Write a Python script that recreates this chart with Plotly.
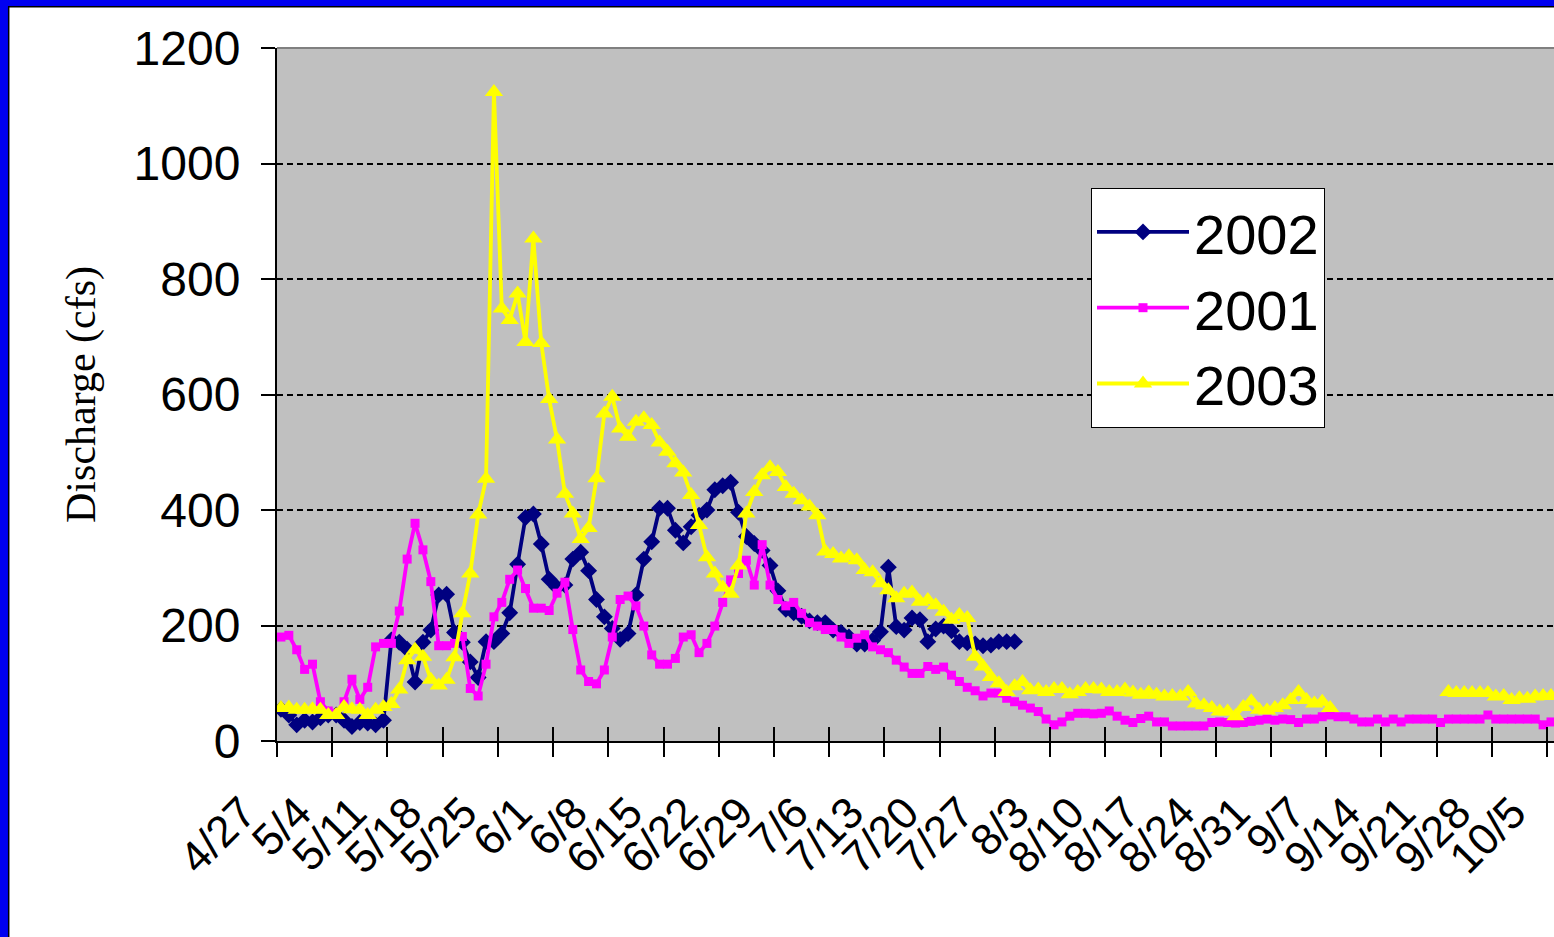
import plotly.graph_objects as go

# ---------------- data ----------------
tick_labels = ["4/27", "5/4", "5/11", "5/18", "5/25", "6/1", "6/8", "6/15", "6/22",
               "6/29", "7/6", "7/13", "7/20", "7/27", "8/3", "8/10", "8/17", "8/24",
               "8/31", "9/7", "9/14", "9/21", "9/28", "10/5"]
y_ticks = [0, 200, 400, 600, 800, 1000, 1200]

# daily discharge (cfs), day 0 = 4/27
y2002 = [55, 45, 28, 36, 33, 40, 45, 45, 36, 25,
         32, 31, 28, 36, 175, 171, 159, 102, 171, 192,
         253, 254, 188, 171, 137, 110, 172, 172, 186, 222,
         306, 387, 393, 341, 280, 266, 270, 315, 327, 295,
         245, 215, 195, 176, 186, 253, 315, 345, 403, 403,
         365, 343, 371, 391, 400, 435, 442, 448, 396, 354,
         342, 330, 304, 260, 228, 222, 216, 208, 205, 205,
         192, 188, 180, 168, 168, 174, 189, 301, 198, 192,
         213, 210, 172, 194, 199, 191, 172, 170, 168, 165,
         166, 172, 172, 172]

y2001 = [180, 183, 158, 124, 133, 68, 52, 48, 68, 107,
         72, 93, 163, 169, 169, 225, 315, 377, 331, 276,
         165, 165, 169, 181, 91, 78, 133, 215, 240, 280,
         296, 264, 230, 230, 226, 256, 275, 193, 123, 103,
         99, 123, 180, 245, 251, 234, 199, 149, 133, 133,
         143, 180, 184, 153, 169, 199, 240, 279, 290, 313,
         270, 340, 270, 245, 234, 240, 221, 205, 199, 193,
         193, 180, 169, 178, 184, 163, 158, 153, 140, 128,
         117, 117, 129, 124, 128, 114, 103, 93, 87, 78,
         83, 83, 74, 68, 62, 57, 51, 38, 28, 33,
         43, 48, 48, 47, 48, 52, 43, 36, 32, 39,
         43, 33, 33, 26, 26, 26, 26, 26, 32, 33,
         32, 31, 32, 34, 36, 38, 36, 38, 37, 32,
         38, 38, 42, 45, 42, 42, 38, 33, 33, 38,
         33, 38, 33, 38, 38, 38, 38, 32, 38, 38,
         38, 38, 38, 45, 38, 38, 38, 38, 38, 38,
         28, 33]

y2003 = [57, 58, 54, 54, 55, 54, 45, 45, 59, 55,
         54, 45, 54, 59, 64, 89, 140, 158, 146, 106,
         96, 106, 145, 221, 290, 392, 454, 1124, 749, 729,
         775, 691, 870, 689, 592, 522, 428, 394, 350, 369,
         455, 567, 596, 541, 527, 553, 559, 547, 517, 501,
         481, 465, 426, 374, 318, 290, 266, 255, 304, 394,
         431, 460, 474, 466, 440, 428, 417, 406, 391, 328,
         324, 316, 320, 313, 296, 292, 273, 261, 247, 255,
         257, 241, 244, 235, 224, 210, 218, 213, 146, 129,
         111, 100, 85, 95, 102, 88, 89, 85, 90, 90,
         81, 85, 90, 90, 89, 85, 85, 89, 84, 80,
         84, 80, 77, 78, 77, 85, 65, 62, 57, 51,
         51, 43, 59, 69, 54, 53, 57, 62, 71, 85,
         71, 65, 68, 57,
         None, None, None, None, None, None, None, None, None, None, None, None, None, None,
         85, 83, 83, 83, 83, 83, 77, 78, 71, 74, 73, 77,
         78, 78]

# ---------------- layout geometry ----------------
W, H = 1554, 937
L, T, B = 277, 48, 196
plot_w = W - L
plot_h = H - T - B
px_per_day = 55.22 / 7
x_max = -0.5 + plot_w / px_per_day
tickvals = [-0.5 + 7 * k for k in range(len(tick_labels))]


def px_x(px):
    return (px - L) / plot_w


def px_y(py):
    return (H - B - py) / plot_h


days2002 = list(range(len(y2002)))
days2001 = list(range(len(y2001)))
days2003 = list(range(len(y2003)))

fig = go.Figure()
fig.add_trace(go.Scatter(
    x=days2002, y=y2002, name="2002", mode="lines+markers",
    line=dict(color="#000080", width=3.8),
    marker=dict(symbol="diamond", size=13, color="#000080")))
fig.add_trace(go.Scatter(
    x=days2001, y=y2001, name="2001", mode="lines+markers",
    line=dict(color="#FF00FF", width=3.8),
    marker=dict(symbol="square", size=9, color="#FF00FF")))
fig.add_trace(go.Scatter(
    x=days2003, y=y2003, name="2003", mode="lines+markers", connectgaps=False,
    line=dict(color="#FFFF00", width=3.8),
    marker=dict(symbol="triangle-up", size=16, color="#FFFF00")))
# helper (empty) traces so the overlay axes are drawn
fig.add_trace(go.Scatter(x=[], y=[], xaxis="x2", yaxis="y", showlegend=False, hoverinfo="skip"))
fig.add_trace(go.Scatter(x=[], y=[], xaxis="x", yaxis="y2", showlegend=False, hoverinfo="skip"))

axis_font = "Arial, Liberation Sans, sans-serif"

fig.update_layout(
    width=W, height=H,
    margin=dict(l=L, r=0, t=T, b=B, pad=0),
    paper_bgcolor="white",
    plot_bgcolor="#C0C0C0",
    showlegend=True,
    xaxis=dict(
        range=[-0.5, x_max], tickmode="array", tickvals=tickvals, ticktext=tick_labels,
        tickangle=-45, ticks="outside", ticklen=14, tickwidth=2, tickcolor="black",
        ticklabelshift=-34, ticklabelstandoff=12, ticklabeloverflow="allow",
        showline=True, linecolor="black", linewidth=2,
        showgrid=False, zeroline=False,
        tickfont=dict(family=axis_font, size=44, color="black"),
    ),
    xaxis2=dict(
        overlaying="x", matches="x", anchor="y", side="bottom",
        tickmode="array", tickvals=tickvals, ticks="inside", ticklen=14, tickwidth=2,
        tickcolor="black", showticklabels=False, showline=False, showgrid=False,
        zeroline=False,
    ),
    yaxis=dict(
        range=[0, 1200], tickmode="array", tickvals=y_ticks,
        ticks="outside", ticklen=14, tickwidth=2, tickcolor="black",
        showline=True, linecolor="black", linewidth=2,
        showgrid=False, zeroline=False, ticklabelstandoff=11,
        tickfont=dict(family=axis_font, size=48, color="black"),
        title=dict(text="Discharge (cfs)", standoff=25,
                   font=dict(family="Liberation Serif, Times New Roman, serif", size=42,
                             color="black")),
    ),
    yaxis2=dict(
        overlaying="y", matches="y", anchor="x", side="left",
        tickmode="array", tickvals=[200, 400, 600, 800, 1000],
        showticklabels=False, ticks="", showline=False, zeroline=False,
        showgrid=True, gridcolor="black", gridwidth=1.5, griddash="6px,4px",
    ),
    legend=dict(
        x=px_x(1091), y=px_y(188), xanchor="left", yanchor="top",
        bgcolor="white", bordercolor="black", borderwidth=1,
        font=dict(family=axis_font, size=56, color="black"),
        itemwidth=92, tracegroupgap=0,
    ),
    shapes=[
        # top border of plot area
        dict(type="line", xref="paper", yref="paper", x0=0, x1=1, y0=1, y1=1,
             line=dict(color="#808080", width=2)),
        # blue frame (left & top)
        dict(type="rect", xref="paper", yref="paper", x0=px_x(0), x1=px_x(8),
             y0=px_y(H), y1=px_y(0), fillcolor="#0000F0", line=dict(width=0)),
        dict(type="rect", xref="paper", yref="paper", x0=px_x(0), x1=px_x(W),
             y0=px_y(6), y1=px_y(0), fillcolor="#0000F0", line=dict(width=0)),
        dict(type="line", xref="paper", yref="paper", x0=px_x(8.7), x1=px_x(8.7),
             y0=px_y(H), y1=px_y(6), line=dict(color="black", width=1.5)),
        dict(type="line", xref="paper", yref="paper", x0=px_x(8), x1=px_x(W),
             y0=px_y(6.7), y1=px_y(6.7), line=dict(color="black", width=1.5)),
    ],
)

fig.write_html("out.html",
               config={"displayModeBar": False},
               post_script="document.body.style.margin='0px';"
                           "document.body.style.overflow='hidden';")
